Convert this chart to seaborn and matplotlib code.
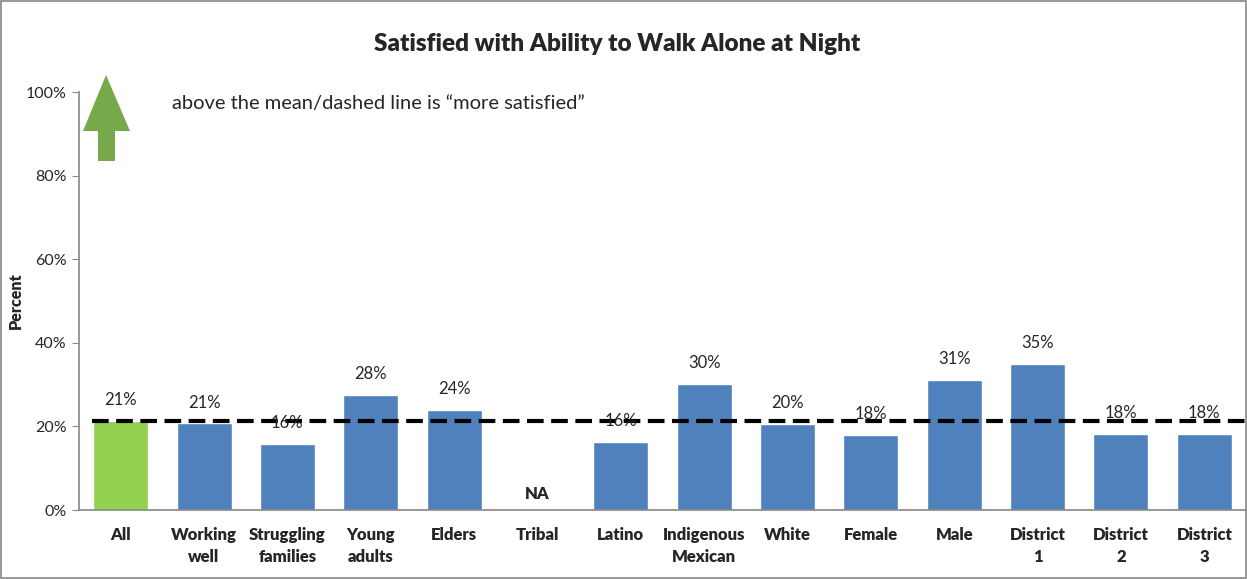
import numpy as np
import pandas as pd
import matplotlib
matplotlib.use("Agg")
import matplotlib.pyplot as plt
import seaborn as sns
from matplotlib.patches import Polygon, Rectangle

# ================== DATA ==================
categories = ["All", "Working\nwell", "Struggling\nfamilies", "Young\nadults", "Elders",
              "Tribal", "Latino", "Indigenous\nMexican", "White", "Female", "Male",
              "District\n1", "District\n2", "District\n3"]
values = [0.214, 0.207, 0.159, 0.276, 0.240, np.nan, 0.162, 0.302, 0.205, 0.179,
          0.312, 0.349, 0.183, 0.181]
value_labels = ["21%", "21%", "16%", "28%", "24%", "NA", "16%", "30%", "20%", "18%",
                "31%", "35%", "18%", "18%"]
mean_line = 0.212

bar_blue = "#4F81BD"
bar_green = "#92D050"
colors = [bar_green] + [bar_blue] * (len(categories) - 1)

df = pd.DataFrame({"cat": categories, "val": values})

# ================== PLOT ==================
sns.set_style("white")
plt.rcParams["font.family"] = ["Lato", "DejaVu Sans"]

fig = plt.figure(figsize=(12.47, 5.79), dpi=100)
ax = fig.add_axes([79 / 1247, 1 - 510 / 579, 1 - 80 / 1247, (510 - 92) / 579])

sns.barplot(data=df, x="cat", y="val", hue="cat", palette=colors, legend=False,
            width=0.66, saturation=1, ax=ax)

ax.set_xlim(-0.5, len(categories) - 0.5)
ax.set_ylim(0, 1)
ax.set_yticks(np.arange(0, 1.01, 0.2))
ax.set_yticklabels([f"{int(t * 100)}%" for t in np.arange(0, 1.01, 0.2)], fontsize=11.5)
ax.set_xticks(range(len(categories)))
ax.set_xticklabels(categories, fontsize=12, fontweight="heavy", linespacing=1.5)
ax.set_xticks(np.arange(-0.5, len(categories), 1), minor=True)
ax.tick_params(axis="x", which="major", length=0, pad=12)
ax.tick_params(axis="x", which="minor", length=5, color="#868686", direction="out")
ax.tick_params(axis="y", length=5, color="#868686", direction="out", left=True, pad=4)
ax.set_xlabel("")
ax.set_ylabel("Percent", fontsize=11.5, fontweight="heavy")
ax.yaxis.set_label_coords(-0.047, 0.5)

for s in ["top", "right"]:
    ax.spines[s].set_visible(False)
for s in ["left", "bottom"]:
    ax.spines[s].set_color("#868686")
    ax.spines[s].set_linewidth(1.2)

# value labels
for i, (v, lab) in enumerate(zip(values, value_labels)):
    if np.isnan(v):
        ax.text(i, 0.038, lab, ha="center", va="center", fontsize=12, fontweight="heavy")
    else:
        ax.text(i, v + 0.05, lab, ha="center", va="center", fontsize=12)

# mean dashed line
ax.plot([-0.35, len(categories) - 0.5], [mean_line, mean_line], color="black",
        linestyle=(0, (4, 1.8)), linewidth=3, clip_on=False)

# title
fig.text(0.495, 1 - 44 / 579, "Satisfied with Ability to Walk Alone at Night",
         ha="center", va="center", fontsize=17.5, fontweight="heavy")

# arrow and note
W, H = 1247, 579
arrow_px = [(106, 75), (130, 131), (115, 131), (115, 161), (98, 161), (98, 131), (83, 131)]
arrow = Polygon([(x / W, 1 - y / H) for x, y in arrow_px], closed=True,
                facecolor="#77A94A", edgecolor="none", transform=fig.transFigure)
fig.patches.append(arrow)
fig.text(172 / W, 1 - 104 / H, "above the mean/dashed line is \u201cmore satisfied\u201d",
         ha="left", va="center", fontsize=14.5)

# outer frame
fig.patches.append(Rectangle((0.001, 0.001), 0.998, 0.998, fill=False,
                             edgecolor="#868686", linewidth=1.2, transform=fig.transFigure))

fig.savefig("out.png", dpi=100)
